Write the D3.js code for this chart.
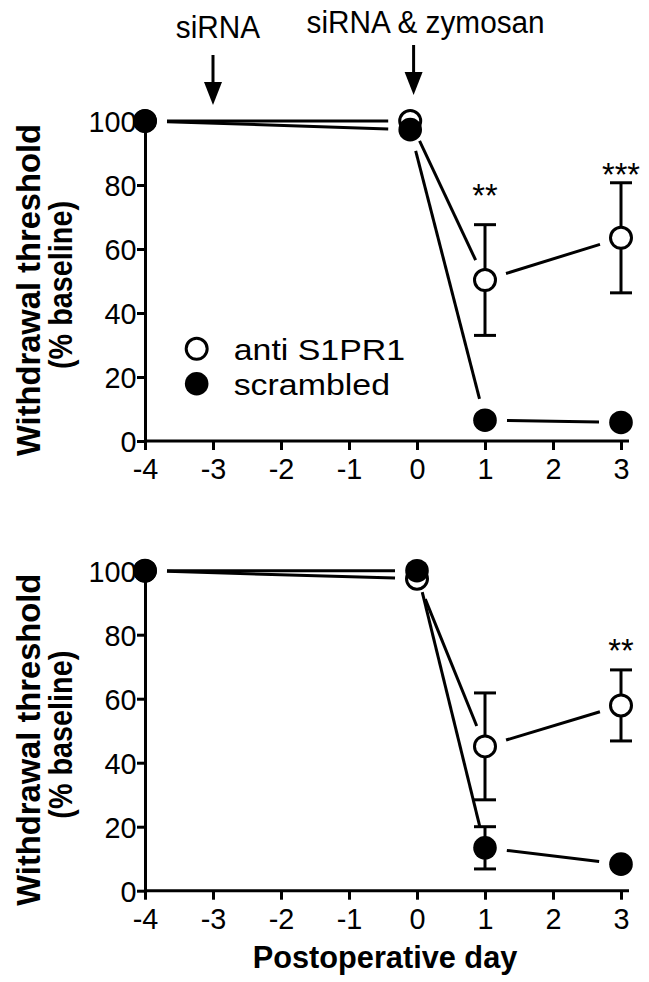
<!DOCTYPE html>
<html><head><meta charset="utf-8">
<script src="https://cdn.jsdelivr.net/npm/d3@7"></script>
<style>body{margin:0;background:#fff}svg{display:block}</style>
</head><body>
<svg id="chart" width="649" height="982"></svg>
<script>
// ---------- data ----------
const dayTicks = [-4, -3, -2, -1, 0, 1, 2, 3];
const yTicks = [0, 20, 40, 60, 80, 100];
const seriesNames = ["anti S1PR1", "scrambled"];

// top panel
const topDays = [-4, -0.1, 1, 3];
const topAnti = [100, 100, 50.3, 63.5];
const topAntiErr = [0, 0, 17.3, 17.2];
const topScr = [100, 97.3, 6.5, 5.8];
const topScrErr = [0, 0, 0, 0];
const topStarDays = [1, 3];
const topStarVals = [79, 85.5];
const topStarLabels = ["**", "***"];

// bottom panel
const botDays = [-4, 0, 1, 3];
const botAnti = [100, 97.5, 45.1, 57.9];
const botAntiErr = [0, 0, 16.7, 11.1];
const botScr = [100, 100, 13.4, 8.3];
const botScrErr = [0, 0, 6.6, 0];
const botStarDays = [3];
const botStarVals = [77.5];
const botStarLabels = ["**"];

// annotations
const arrowDays = [-3, -0.05];
const arrowLabels = ["siRNA", "siRNA & zymosan"];

const yTitle1 = "Withdrawal threshold";
const yTitle2 = "(% baseline)";
const xTitle = "Postoperative day";

// ---------- drawing ----------
const svg = d3.select("#chart");
const FONT = "'Liberation Sans', Arial, Helvetica, sans-serif";
const SX = 0.96;
const x = d3.scaleLinear().domain([-4, 3]).range([145, 621]);

function panel(offY, days, anti, antiErr, scr, scrErr, starDays, starVals, starLabels, legend, showXTitle) {
  const g = svg.append("g");
  const y = d3.scaleLinear().domain([0, 100]).range([441 + offY, 121 + offY]);

  // y axis
  const ya = g.append("g").attr("transform", `translate(${x(-4)},0)`)
    .call(d3.axisLeft(y).tickValues(yTicks).tickSize(8).tickSizeOuter(0).tickFormat(d3.format("d")));
  ya.select(".domain").attr("stroke-width", 3);
  ya.selectAll(".tick line").attr("stroke-width", 3);
  ya.selectAll(".tick text").attr("font-family", FONT).attr("font-size", 30).attr("fill", "#000")
    .attr("x", -8.5 / SX).attr("dy", "0.36em").attr("transform", `scale(${SX},1)`);

  // x axis
  const xa = g.append("g").attr("transform", `translate(0,${y(0)})`)
    .call(d3.axisBottom(x).tickValues(dayTicks).tickSize(9).tickSizeOuter(0).tickFormat(d3.format("d")));
  xa.select(".domain").attr("stroke-width", 3).attr("d", `M${x(-4)},0H${x(3) + 8}`);
  xa.selectAll(".tick line").attr("stroke-width", 3);
  xa.selectAll(".tick text").attr("font-family", FONT).attr("font-size", 30).attr("fill", "#000")
    .attr("y", 38).attr("dy", 0).attr("transform", `scale(${SX},1)`)
    .text(d => d < 0 ? "-" + Math.abs(d) : d);

  // y title
  const yc = (y(0) + y(100)) / 2 + 9;
  g.append("text").attr("transform", `translate(40,${yc}) rotate(-90)`)
    .attr("text-anchor", "middle").attr("font-family", FONT).attr("font-weight", "bold")
    .attr("font-size", 33).attr("textLength", 332).attr("lengthAdjust", "spacingAndGlyphs").text(yTitle1);
  g.append("text").attr("transform", `translate(72,${yc - 5}) rotate(-90)`)
    .attr("text-anchor", "middle").attr("font-family", FONT).attr("font-weight", "bold")
    .attr("font-size", 33).attr("textLength", 168).attr("lengthAdjust", "spacingAndGlyphs").text(yTitle2);

  // connecting lines with gaps (Prism style)
  const GAP = 22;
  function seg(vals) {
    const pts = days.map((d, i) => [x(d), y(vals[i])]);
    const out = [];
    for (let i = 0; i < pts.length - 1; i++) {
      const [x1, y1] = pts[i], [x2, y2] = pts[i + 1];
      const L = Math.hypot(x2 - x1, y2 - y1);
      if (L <= 2 * GAP) continue;
      const ux = (x2 - x1) / L, uy = (y2 - y1) / L;
      out.push([x1 + ux * GAP, y1 + uy * GAP, x2 - ux * GAP, y2 - uy * GAP]);
    }
    return out;
  }
  [anti, scr].forEach(vals => {
    g.selectAll(null).data(seg(vals)).join("line")
      .attr("x1", d => d[0]).attr("y1", d => d[1]).attr("x2", d => d[2]).attr("y2", d => d[3])
      .attr("stroke", "#000").attr("stroke-width", 3);
  });

  // error bars
  function errs(vals, err) {
    const eg = g.append("g").attr("stroke", "#000").attr("stroke-width", 3);
    days.forEach((d, i) => {
      if (!err[i]) return;
      const cx = x(d), t = y(vals[i] + err[i]), b = y(vals[i] - err[i]);
      eg.append("line").attr("x1", cx).attr("x2", cx).attr("y1", t).attr("y2", b);
      eg.append("line").attr("x1", cx - 11).attr("x2", cx + 11).attr("y1", t).attr("y2", t);
      eg.append("line").attr("x1", cx - 11).attr("x2", cx + 11).attr("y1", b).attr("y2", b);
    });
  }
  errs(anti, antiErr);
  errs(scr, scrErr);

  // markers
  g.selectAll(null).data(days).join("circle")
    .attr("cx", d => x(d)).attr("cy", (d, i) => y(anti[i])).attr("r", 10.5)
    .attr("fill", "#fff").attr("stroke", "#000").attr("stroke-width", 3);
  g.selectAll(null).data(days).join("circle")
    .attr("cx", d => x(d)).attr("cy", (d, i) => y(scr[i])).attr("r", 11.8).attr("fill", "#000");

  // significance stars
  starDays.forEach((d, i) => {
    g.append("text").attr("transform", `translate(${x(d)},${y(starVals[i]) + 19}) scale(${SX},1)`)
      .attr("text-anchor", "middle").attr("font-family", FONT).attr("font-size", 34).text(starLabels[i]);
  });

  if (legend) {
    const lx = x(-3.24);
    const ly = [y(28.8), y(17.9)];
    g.append("circle").attr("cx", lx).attr("cy", ly[0]).attr("r", 10.5)
      .attr("fill", "#fff").attr("stroke", "#000").attr("stroke-width", 3);
    g.append("circle").attr("cx", lx).attr("cy", ly[1]).attr("r", 11.8).attr("fill", "#000");
    seriesNames.forEach((n, i) => {
      g.append("text").attr("transform", `translate(${lx + 37},${ly[i] + 11}) scale(1.13,1)`)
        .attr("font-family", FONT).attr("font-size", 30).text(n);
    });
  }

  if (showXTitle) {
    g.append("text").attr("transform", `translate(${(x(-4) + x(3)) / 2 + 2},${y(0) + 77}) scale(${SX},1)`)
      .attr("text-anchor", "middle").attr("font-family", FONT).attr("font-weight", "bold")
      .attr("font-size", 32).text(xTitle);
  }
  return y;
}

panel(0, topDays, topAnti, topAntiErr, topScr, topScrErr, topStarDays, topStarVals, topStarLabels, true, false);
panel(449.7, botDays, botAnti, botAntiErr, botScr, botScrErr, botStarDays, botStarVals, botStarLabels, false, true);

// arrows and labels above the top panel
const ag = svg.append("g");
const arrowTop = [55, 45], arrowTip = [105, 95], labelBase = [38, 33];
arrowDays.forEach((d, i) => {
  const cx = x(d);
  ag.append("line").attr("x1", cx).attr("x2", cx).attr("y1", arrowTop[i]).attr("y2", arrowTip[i] - 18)
    .attr("stroke", "#000").attr("stroke-width", 3);
  ag.append("path").attr("d", `M${cx - 9},${arrowTip[i] - 23}L${cx + 9},${arrowTip[i] - 23}L${cx},${arrowTip[i]}Z`).attr("fill", "#000");
  ag.append("text").attr("transform", `translate(${cx + (i === 0 ? 5 : 12)},${labelBase[i]}) scale(${SX},1)`)
    .attr("text-anchor", "middle").attr("font-family", FONT).attr("font-size", 31).text(arrowLabels[i]);
});
</script>
</body></html>
